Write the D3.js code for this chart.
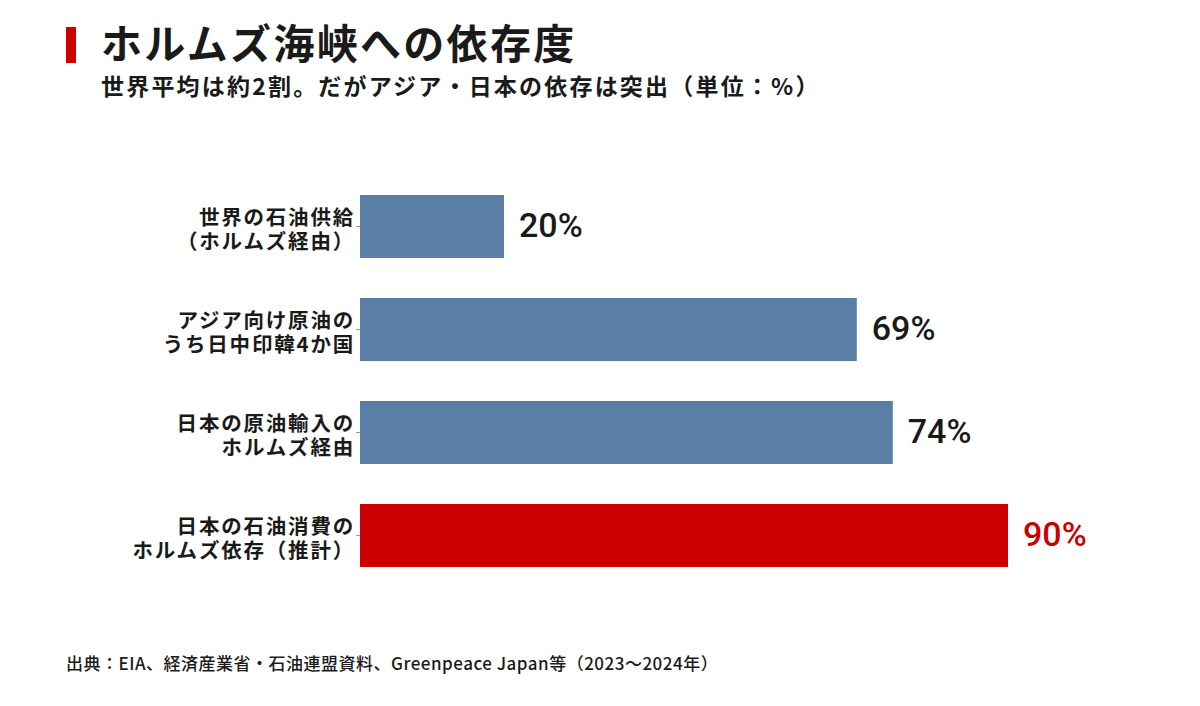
<!DOCTYPE html>
<html><head><meta charset="utf-8">
<script src="https://cdn.jsdelivr.net/npm/d3@7/dist/d3.min.js"></script>
<style>
html,body{margin:0;padding:0;background:#fff;}
svg{display:block;}
</style></head>
<body>
<script>
const categories = [
  ["世界の石油供給", "（ホルムズ経由）"],
  ["アジア向け原油の", "うち日中印韓4か国"],
  ["日本の原油輸入の", "ホルムズ経由"],
  ["日本の石油消費の", "ホルムズ依存（推計）"]
];
const values = [20, 69, 74, 90];
const highlight = [false, false, false, true];
const valueLabels = ["20%", "69%", "74%", "90%"];
const title = "ホルムズ海峡への依存度";
const subtitle = "世界平均は約2割。だがアジア・日本の依存は突出（単位：%）";
const source = "出典：EIA、経済産業省・石油連盟資料、Greenpeace Japan等（2023〜2024年）";

const W = 1200, H = 706;
const jp = "'Noto Sans CJK JP','Noto Sans',sans-serif";
const svg = d3.select("body").append("svg").attr("width", W).attr("height", H);

svg.append("rect").attr("x", 66).attr("y", 27).attr("width", 10).attr("height", 36).attr("fill", "#cc0000");
svg.append("text").attr("x", 101).attr("y", 59).text(title)
  .attr("font-family", jp).attr("font-weight", 700).attr("font-size", 41).attr("letter-spacing", 2.3).attr("fill", "#1a1a1a");
svg.append("text").attr("x", 101).attr("y", 95).text(subtitle)
  .attr("font-family", jp).attr("font-weight", 700).attr("font-size", 23).attr("letter-spacing", 2.2).attr("fill", "#1a1a1a");

const x = d3.scaleLinear().domain([0, 100]).range([360, 1080]);
const y = d3.scaleBand().domain(d3.range(categories.length)).range([175, 587]).paddingInner(0.388).paddingOuter(0.194);

const axis = d3.axisLeft(y).tickSize(4).tickFormat("");
const ag = svg.append("g").attr("transform", "translate(360,0)").call(axis);
ag.select(".domain").remove();
ag.selectAll(".tick line").attr("stroke", "#999").attr("stroke-width", 1);

svg.selectAll("rect.bar").data(values).join("rect").attr("class", "bar")
  .attr("x", x(0)).attr("y", (d, i) => y(i))
  .attr("width", d => x(d) - x(0)).attr("height", y.bandwidth())
  .attr("fill", (d, i) => highlight[i] ? "#cc0000" : "#5b7ea6");

svg.selectAll("text.val").data(values).join("text").attr("class", "val")
  .attr("x", d => x(d) + 15).attr("y", (d, i) => y(i) + y.bandwidth() / 2 + 10)
  .text((d, i) => valueLabels[i])
  .attr("font-family", "Roboto, 'Noto Sans', sans-serif").attr("font-weight", 500).attr("font-size", 34)
  .attr("fill", (d, i) => highlight[i] ? "#cc0000" : "#1a1a1a");

categories.forEach((d, i) => {
  const cy = y(i) + y.bandwidth() / 2;
  d.forEach((line, j) => {
    svg.append("text").attr("class", "cat")
      .attr("text-anchor", "end")
      .attr("x", 355).attr("y", cy - 2 + j * 24)
      .text(line)
      .attr("font-family", jp).attr("font-weight", 700).attr("font-size", 20.5).attr("letter-spacing", 1.8).attr("fill", "#1a1a1a");
  });
});

svg.append("text").attr("x", 66).attr("y", 670).text(source)
  .attr("font-family", jp).attr("font-weight", 500).attr("font-size", 17).attr("letter-spacing", 0.5).attr("fill", "#1a1a1a");
</script>
</body></html>
